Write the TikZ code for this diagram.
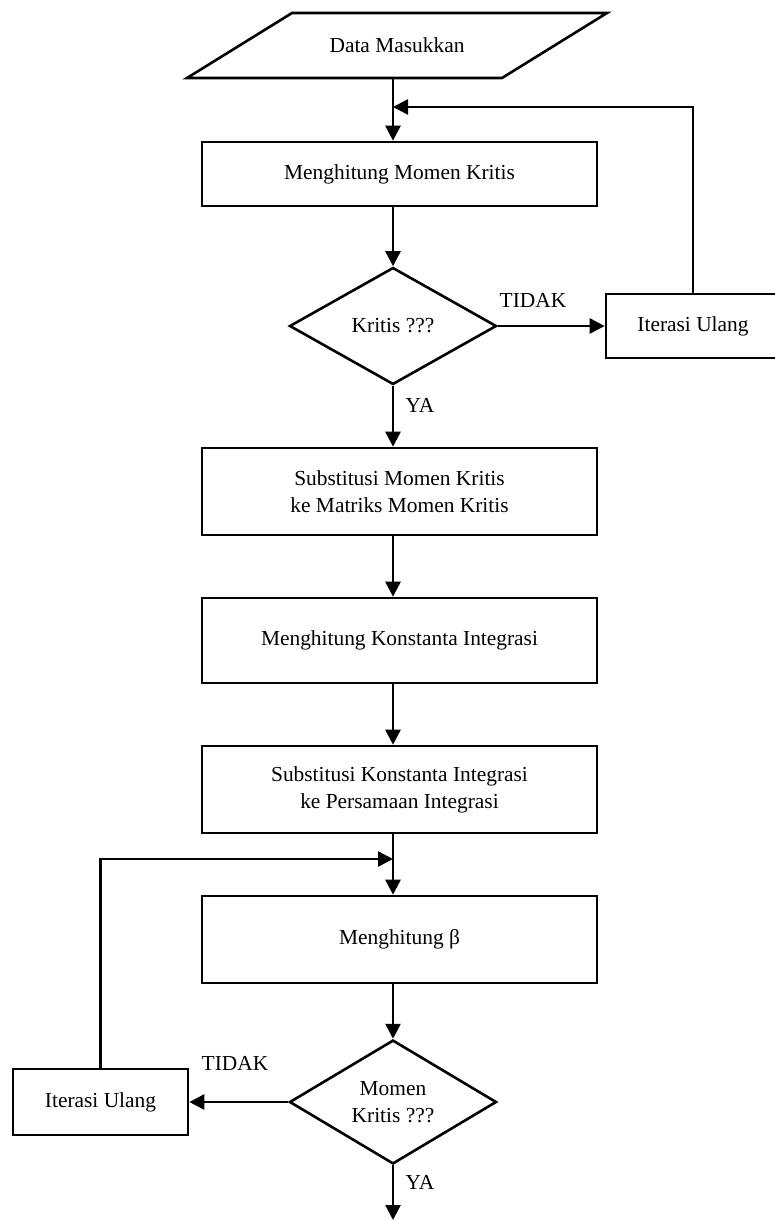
\documentclass[tikz,border=0pt]{standalone}
\usepackage{fontspec}
\setmainfont{Liberation Serif}
\usetikzlibrary{shapes.geometric,arrows.meta}

\begin{document}
\begin{tikzpicture}[x=1pt,y=-1pt,
  every node/.style={font=\fontsize{21.4}{27}\selectfont},
  line/.style={line width=2.6pt,line join=miter},
  arr/.style={line,-{Triangle[length=15pt,width=15pt]}},
  procbox/.style={line,draw,rectangle,inner sep=0pt,align=center,
    minimum width=395pt},
  decide/.style={line,draw,diamond,inner sep=0pt,align=center,
    minimum width=207pt,minimum height=117pt},
  iterbox/.style={line,draw,rectangle,inner sep=0pt,minimum width=174pt,
    minimum height=64pt},
  lbl/.style={inner sep=0pt}]

\useasboundingbox (0,0) rectangle (775,1220);

% main flow axis and junction points
\coordinate (ax) at (393,0);
\coordinate (j1) at (393,107);
\coordinate (j2) at (393,859);
\coordinate (endpt) at (393,1220);

% input parallelogram
\draw[line] (292,13) -- (607,13) -- (502,78) -- (187,78) -- cycle;
\node (din) at (397,45.5) {Data Masukkan};
\coordinate (dinb) at (393,78);

% nodes
\node[procbox,minimum height=64pt] (b1) at (399.5,174) {Menghitung Momen Kritis};
\node[decide] (d1) at (393,326) {Kritis ???};
\node[iterbox] (it1) at (693,326) {Iterasi Ulang};
\node[procbox,minimum height=87pt] (b2) at (399.5,491.5)
  {Substitusi Momen Kritis\\ke Matriks Momen Kritis};
\node[procbox,minimum height=85pt] (b3) at (399.5,640.5)
  {Menghitung Konstanta Integrasi};
\node[procbox,minimum height=87pt] (b4) at (399.5,789.5)
  {Substitusi Konstanta Integrasi\\ke Persamaan Integrasi};
\node[procbox,minimum height=87pt] (b5) at (399.5,939.5) {Menghitung β};
\node[decide] (d2) at (393,1102) {Momen\\Kritis ???};
\node[iterbox,minimum width=175pt,minimum height=66pt] (it2) at (100.5,1102)
  {Iterasi Ulang};

% branch labels
\node[lbl] (t1) at (533,300) {TIDAK};
\node[lbl] (y1) at (420,405) {YA};
\node[lbl] (t2) at (235,1063) {TIDAK};
\node[lbl] (y2) at (420,1182) {YA};

% connectors
\draw[arr] (dinb) -- (b1.north -| ax);
\draw[arr] (b1.south -| ax) -- (d1.north);
\draw[arr] (d1.east) -- (it1.west);
\draw[arr] (it1.north) |- (j1);
\draw[arr] (d1.south) -- (b2.north -| ax);
\draw[arr] (b2.south -| ax) -- (b3.north -| ax);
\draw[arr] (b3.south -| ax) -- (b4.north -| ax);
\draw[arr] (b4.south -| ax) -- (b5.north -| ax);
\draw[arr] (it2.north) |- (j2);
\draw[arr] (b5.south -| ax) -- (d2.north);
\draw[arr] (d2.west) -- (it2.east);
\draw[arr] (d2.south) -- (endpt);
\end{tikzpicture}
\end{document}
